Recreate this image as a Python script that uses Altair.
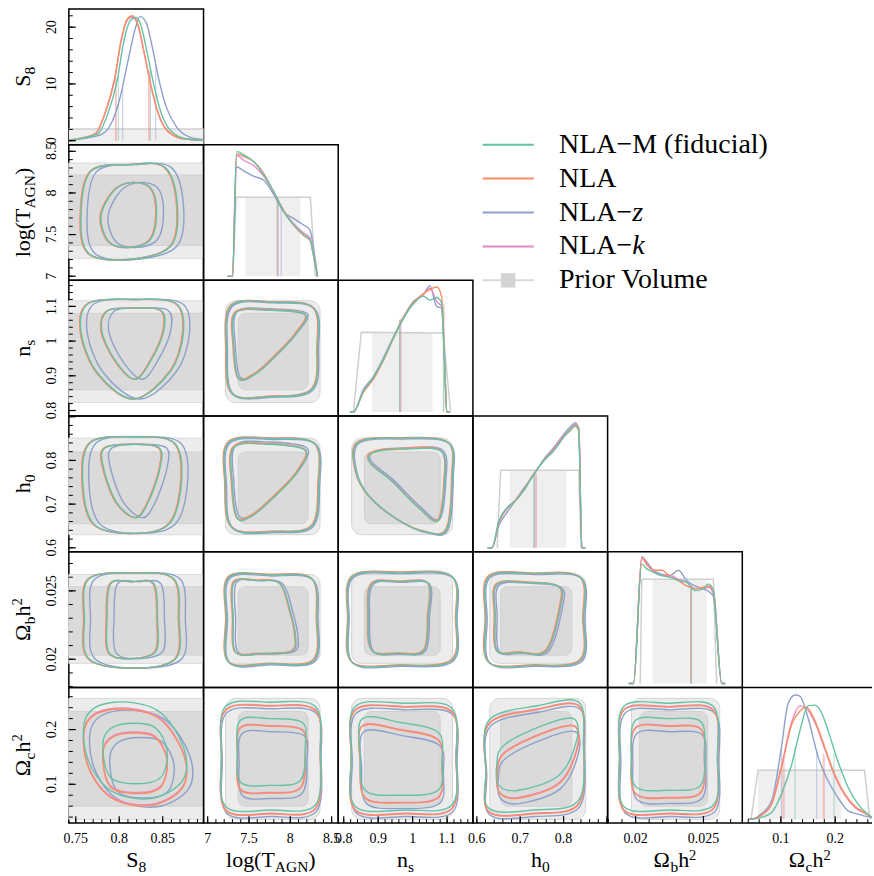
import altair as alt
import numpy as np
import pandas as pd

FONT = "Liberation Serif"
W, H = 135, 136
LAST_W = 130

PARAMS = ["S8", "logT", "ns", "h0", "Ob", "Oc"]
DOMAIN = {
    "S8": [0.742, 0.897],
    "logT": [6.95, 8.58],
    "ns": [0.784, 1.175],
    "h0": [0.591, 0.9015],
    "Ob": [0.01794, 0.02786],
    "Oc": [0.029, 0.277],
}
OC_X_DOMAIN = [0.029, 0.2678]
S8_PDF_DOMAIN = [-0.7, 23.2]
PDF_DOMAIN = [-0.0303, 1.0]

LABEL_VALUES = {
    "S8": [0.75, 0.8, 0.85], "logT": [7, 7.5, 8, 8.5], "ns": [0.8, 0.9, 1.0, 1.1],
    "h0": [0.6, 0.7, 0.8], "Ob": [0.02, 0.025], "Oc": [0.1, 0.2],
}
LABEL_TEXT = {
    "S8": ["0.75", "0.8", "0.85"], "logT": ["7", "7.5", "8", "8.5"], "ns": ["0.8", "0.9", "1", "1.1"],
    "h0": ["0.6", "0.7", "0.8"], "Ob": ["0.02", "0.025"], "Oc": ["0.1", "0.2"],
}
MAJOR = {
    "S8": [0.75, 0.8, 0.85], "logT": [7, 7.5, 8, 8.5], "ns": [0.8, 0.9, 1.0, 1.1],
    "h0": [0.6, 0.7, 0.8, 0.9], "Ob": [0.02, 0.025], "Oc": [0.1, 0.2],
}
MINOR_RANGE = {
    "S8": (0.75, 0.89, 0.01), "logT": (7.0, 8.5, 0.1), "ns": (0.8, 1.16, 0.02),
    "h0": (0.6, 0.9, 0.02), "Ob": (0.018, 0.027, 0.001), "Oc": (0.04, 0.26, 0.02),
}
PDF_LABELS = [0, 10, 20]
PDF_LABEL_TEXT = ["0", "10", "20"]
PDF_MINOR = (0, 22, 2)

MODELS = ["NLA-M", "NLA", "NLA-z", "NLA-k"]
COLORS = {"NLA-M": "#66c2a5", "NLA": "#fc8d62", "NLA-z": "#8da0cb", "NLA-k": "#e78ac3"}
DRAW_ORDER = ["NLA-z", "NLA-k", "NLA", "NLA-M"]

# 2D prior volume: (outer range, inner range) per parameter
PRIOR2D = {
    "logT": ([7.215, 8.36], [7.37, 8.215]),
    "ns": ([0.823, 1.116], [0.86, 1.08]),
    "h0": ([0.630, 0.851], [0.655, 0.819]),
    "Ob": ([0.0197, 0.0262], [0.0203, 0.0253]),
    "Oc": ([0.036, 0.257], [0.060, 0.233]),
}

# fiducial (NLA-M) contours, outer (95%) and inner (68%)
CONTOURS = {
    (1, 0): dict(ox=[0.811, 0.853, 0.867, 0.859, 0.811, 0.765, 0.756, 0.767],
                 oy=[8.340, 8.304, 7.837, 7.357, 7.201, 7.273, 7.717, 8.256],
                 ix=[0.813, 0.836, 0.843, 0.836, 0.811, 0.788, 0.779, 0.793],
                 iy=[8.124, 8.064, 7.777, 7.441, 7.345, 7.417, 7.717, 8.016]),
    (2, 0): dict(ox=[0.817, 0.865, 0.874, 0.859, 0.817, 0.775, 0.756, 0.765],
                 oy=[1.120, 1.109, 1.028, 0.913, 0.833, 0.908, 1.028, 1.109],
                 ix=[0.813, 0.848, 0.851, 0.836, 0.818, 0.796, 0.780, 0.786],
                 iy=[1.095, 1.089, 1.028, 0.942, 0.890, 0.942, 1.028, 1.086]),
    (2, 1): dict(ox=[7.285, 7.780, 8.282, 8.330, 8.263, 7.759, 7.297, 7.228],
                 oy=[1.102, 1.112, 1.095, 0.981, 0.861, 0.840, 0.849, 0.976],
                 ix=[7.337, 7.739, 8.182, 8.061, 7.859, 7.599, 7.376, 7.316],
                 iy=[1.081, 1.089, 1.076, 1.019, 0.966, 0.909, 0.891, 0.985]),
    (3, 0): dict(ox=[0.817, 0.863, 0.872, 0.859, 0.819, 0.771, 0.758, 0.767],
                 oy=[0.854, 0.841, 0.761, 0.658, 0.633, 0.654, 0.753, 0.841],
                 ix=[0.815, 0.846, 0.847, 0.834, 0.819, 0.796, 0.781, 0.784],
                 iy=[0.837, 0.829, 0.783, 0.707, 0.669, 0.707, 0.791, 0.829]),
    (3, 1): dict(ox=[7.256, 7.799, 8.303, 8.343, 8.263, 7.799, 7.297, 7.216],
                 oy=[0.841, 0.850, 0.837, 0.746, 0.650, 0.637, 0.646, 0.746],
                 ix=[7.316, 7.719, 8.182, 8.082, 7.799, 7.538, 7.357, 7.297],
                 iy=[0.829, 0.837, 0.823, 0.772, 0.715, 0.673, 0.668, 0.746]),
    (3, 2): dict(ox=[0.841, 0.968, 1.103, 1.115, 1.099, 1.036, 0.954, 0.872, 0.835],
                 oy=[0.841, 0.851, 0.841, 0.761, 0.643, 0.637, 0.666, 0.719, 0.776],
                 ix=[0.886, 0.984, 1.084, 1.092, 1.074, 1.017, 0.939, 0.877],
                 iy=[0.818, 0.826, 0.820, 0.746, 0.662, 0.692, 0.753, 0.794]),
    (4, 0): dict(ox=[0.817, 0.863, 0.869, 0.865, 0.817, 0.765, 0.760, 0.765],
                 oy=[0.02631, 0.02587, 0.02295, 0.02004, 0.01935, 0.02004, 0.02295, 0.02587],
                 ix=[0.815, 0.840, 0.844, 0.842, 0.813, 0.788, 0.786, 0.790],
                 iy=[0.02567, 0.02551, 0.02295, 0.02057, 0.02004, 0.02052, 0.02295, 0.02551]),
    (4, 1): dict(ox=[7.256, 7.759, 8.263, 8.323, 8.283, 7.759, 7.256, 7.228],
                 oy=[0.02599, 0.02616, 0.02587, 0.02295, 0.01991, 0.01967, 0.01979, 0.02295],
                 ix=[7.316, 7.599, 7.880, 8.001, 8.061, 8.021, 7.638, 7.337, 7.309],
                 iy=[0.02558, 0.02575, 0.02551, 0.02343, 0.02174, 0.02057, 0.02040, 0.02052, 0.02295]),
    (4, 2): dict(ox=[0.825, 0.964, 1.114, 1.126, 1.114, 0.964, 0.825, 0.813],
                 oy=[0.02604, 0.02633, 0.02604, 0.02298, 0.01991, 0.01955, 0.01977, 0.02298],
                 ix=[0.882, 0.964, 1.045, 1.045, 1.033, 0.958, 0.882, 0.871],
                 iy=[0.02553, 0.02567, 0.02553, 0.02320, 0.02064, 0.02042, 0.02064, 0.02320]),
    (4, 3): dict(ox=[0.628, 0.731, 0.839, 0.846, 0.839, 0.731, 0.628, 0.621],
                 oy=[0.02604, 0.02626, 0.02597, 0.02298, 0.01991, 0.01955, 0.01977, 0.02298],
                 ix=[0.646, 0.720, 0.789, 0.793, 0.761, 0.697, 0.646, 0.642],
                 iy=[0.02545, 0.02560, 0.02531, 0.02392, 0.02064, 0.02050, 0.02064, 0.02320]),
    (5, 0): dict(ox=[0.794, 0.844, 0.874, 0.873, 0.836, 0.790, 0.763, 0.762],
                 oy=[0.250, 0.235, 0.168, 0.107, 0.074, 0.089, 0.150, 0.223],
                 ix=[0.809, 0.840, 0.855, 0.848, 0.821, 0.790, 0.781, 0.788],
                 iy=[0.211, 0.205, 0.162, 0.113, 0.101, 0.113, 0.168, 0.199]),
    (5, 1): dict(ox=[7.216, 7.759, 8.303, 8.363, 8.303, 7.759, 7.216, 7.167],
                 oy=[0.242, 0.250, 0.242, 0.162, 0.062, 0.053, 0.060, 0.153],
                 ix=[7.397, 7.759, 8.146, 8.182, 8.122, 7.735, 7.397, 7.361],
                 iy=[0.217, 0.220, 0.213, 0.171, 0.107, 0.098, 0.104, 0.162]),
    (5, 2): dict(ox=[0.833, 0.978, 1.114, 1.126, 1.114, 0.978, 0.833, 0.822],
                 oy=[0.242, 0.248, 0.239, 0.153, 0.062, 0.053, 0.060, 0.153],
                 ix=[0.854, 0.964, 1.074, 1.085, 1.074, 0.964, 0.862, 0.848],
                 iy=[0.220, 0.213, 0.195, 0.144, 0.089, 0.080, 0.089, 0.153]),
    (5, 3): dict(ox=[0.628, 0.743, 0.835, 0.846, 0.835, 0.731, 0.628, 0.621],
                 oy=[0.217, 0.244, 0.250, 0.180, 0.071, 0.053, 0.056, 0.126],
                 ix=[0.662, 0.754, 0.823, 0.830, 0.789, 0.697, 0.651, 0.646],
                 iy=[0.171, 0.208, 0.220, 0.180, 0.116, 0.089, 0.098, 0.135]),
    (5, 4): dict(ox=[0.01912, 0.02242, 0.02573, 0.02603, 0.02573, 0.02242, 0.01912, 0.01882],
                 oy=[0.242, 0.248, 0.242, 0.153, 0.062, 0.053, 0.060, 0.153],
                 ix=[0.02000, 0.02242, 0.02478, 0.02507, 0.02478, 0.02242, 0.02000, 0.01970],
                 iy=[0.217, 0.220, 0.215, 0.162, 0.098, 0.089, 0.096, 0.158]),
}

# shifts of the other models' contours relative to the fiducial: (dx_out, dy_out, dx_in, dy_in)
S8_SHIFT = {"NLA": (-0.001, 0, -0.001, 0), "NLA-z": (0.007, 0, 0.008, 0), "NLA-k": (-0.0008, 0, -0.0008, 0)}
OFFSETS = {
    (1, 0): S8_SHIFT, (2, 0): S8_SHIFT, (3, 0): S8_SHIFT, (4, 0): S8_SHIFT,
    (2, 1): {"NLA": (-0.01, 0.001, -0.01, 0.002), "NLA-z": (0.012, -0.002, 0.02, 0.004), "NLA-k": (0, 0.001, 0, 0)},
    (3, 1): {"NLA": (-0.01, 0.001, -0.01, 0.002), "NLA-z": (0.012, -0.002, 0.02, 0.005), "NLA-k": (0, 0.001, 0, 0.001)},
    (3, 2): {"NLA": (-0.002, 0.001, -0.002, 0.002), "NLA-z": (0.003, -0.002, 0.004, 0.003), "NLA-k": (0, 0, 0, 0.001)},
    (4, 1): {"NLA": (-0.01, 0.00005, -0.01, 0.00005), "NLA-z": (0.012, -0.00007, 0.03, 0), "NLA-k": (0, 0, 0, 0)},
    (4, 2): {"NLA": (-0.002, 0.00005, -0.002, 0.00005), "NLA-z": (0.003, -0.00007, 0.004, -0.00005), "NLA-k": (0, 0, 0.001, 0)},
    (4, 3): {"NLA": (-0.002, 0.00005, -0.002, 0.00005), "NLA-z": (0.003, -0.00007, 0.005, -0.00005), "NLA-k": (0, 0, 0.001, 0)},
    (5, 0): {"NLA": (0, -0.013, 0, -0.018), "NLA-z": (0.007, -0.015, 0.008, -0.026), "NLA-k": (0, -0.011, 0, -0.016)},
    (5, 1): {"NLA": (0, -0.007, 0, -0.014), "NLA-z": (0.01, -0.012, 0.02, -0.024), "NLA-k": (0, -0.006, 0, -0.013)},
    (5, 2): {"NLA": (0, -0.007, 0, -0.014), "NLA-z": (0.003, -0.012, 0.004, -0.024), "NLA-k": (0, -0.006, 0, -0.013)},
    (5, 3): {"NLA": (0, -0.007, 0.002, -0.014), "NLA-z": (0.002, -0.012, 0.004, -0.024), "NLA-k": (0, -0.006, 0.001, -0.013)},
    (5, 4): {"NLA": (0, -0.007, 0, -0.014), "NLA-z": (0.0001, -0.012, 0.0001, -0.024), "NLA-k": (0, -0.006, 0, -0.013)},
}

# 1D marginal posteriors
PDF = {
    "S8": {
        "NLA-M": ([0.742, 0.775, 0.786, 0.798, 0.805, 0.813, 0.819, 0.825, 0.832, 0.840, 0.848, 0.859, 0.878, 0.897],
                  [0.1, 1.2, 4.4, 10.9, 17.3, 21.2, 21.7, 20.3, 15.6, 9.7, 5.0, 1.8, 0.3, 0.1]),
        "NLA": ([0.742, 0.772, 0.783, 0.795, 0.802, 0.810, 0.815, 0.822, 0.829, 0.837, 0.845, 0.856, 0.875, 0.897],
                [0.1, 1.2, 4.6, 11.2, 17.6, 21.6, 22.0, 20.2, 15.2, 9.3, 4.7, 1.6, 0.3, 0.1]),
        "NLA-z": ([0.742, 0.778, 0.790, 0.800, 0.810, 0.818, 0.824, 0.831, 0.838, 0.846, 0.854, 0.866, 0.882, 0.897],
                  [0.1, 1.0, 2.8, 7.0, 14.0, 19.5, 21.9, 20.8, 16.5, 10.5, 6.0, 2.4, 0.6, 0.2]),
        "NLA-k": ([0.742, 0.772, 0.783, 0.795, 0.802, 0.810, 0.815, 0.822, 0.829, 0.837, 0.845, 0.856, 0.875, 0.897],
                  [0.1, 1.1, 4.5, 11.0, 17.4, 21.4, 21.8, 20.1, 15.3, 9.4, 4.8, 1.7, 0.3, 0.1]),
    },
    "logT": {
        "NLA-M": ([7.24, 7.30, 7.35, 7.44, 7.56, 7.68, 7.80, 7.92, 8.04, 8.16, 8.24, 8.28, 8.33],
                  [0, 0, 0.947, 0.922, 0.871, 0.770, 0.644, 0.492, 0.391, 0.316, 0.278, 0.16, 0]),
        "NLA": ([7.24, 7.30, 7.35, 7.44, 7.56, 7.68, 7.80, 7.92, 8.04, 8.16, 8.24, 8.28, 8.33],
                [0, 0, 0.93, 0.91, 0.87, 0.78, 0.64, 0.50, 0.39, 0.31, 0.27, 0.16, 0]),
        "NLA-z": ([7.24, 7.30, 7.35, 7.44, 7.56, 7.68, 7.80, 7.92, 8.04, 8.16, 8.24, 8.28, 8.33],
                  [0, 0, 0.83, 0.80, 0.76, 0.73, 0.62, 0.49, 0.44, 0.39, 0.35, 0.22, 0]),
        "NLA-k": ([7.24, 7.30, 7.35, 7.44, 7.56, 7.68, 7.80, 7.92, 8.04, 8.16, 8.24, 8.28, 8.33],
                  [0, 0, 0.92, 0.88, 0.84, 0.76, 0.64, 0.50, 0.40, 0.33, 0.29, 0.17, 0]),
    },
    "ns": {
        "NLA-M": ([0.818, 0.828, 0.857, 0.886, 0.915, 0.944, 0.973, 1.002, 1.031, 1.050, 1.070, 1.084, 1.092, 1.099, 1.108],
                  [0, 0, 0.16, 0.26, 0.40, 0.56, 0.71, 0.82, 0.88, 0.85, 0.87, 0.83, 0.45, 0, 0]),
        "NLA": ([0.818, 0.828, 0.857, 0.886, 0.915, 0.944, 0.973, 1.002, 1.031, 1.050, 1.070, 1.084, 1.092, 1.099, 1.108],
                [0, 0, 0.15, 0.25, 0.39, 0.56, 0.72, 0.83, 0.90, 0.93, 0.95, 0.88, 0.47, 0, 0]),
        "NLA-z": ([0.818, 0.828, 0.857, 0.886, 0.915, 0.944, 0.973, 1.002, 1.031, 1.050, 1.070, 1.084, 1.092, 1.099, 1.108],
                  [0, 0, 0.17, 0.27, 0.41, 0.57, 0.72, 0.84, 0.89, 0.96, 0.80, 0.79, 0.42, 0, 0]),
        "NLA-k": ([0.818, 0.828, 0.857, 0.886, 0.915, 0.944, 0.973, 1.002, 1.031, 1.050, 1.070, 1.084, 1.092, 1.099, 1.108],
                  [0, 0, 0.16, 0.26, 0.40, 0.56, 0.71, 0.83, 0.89, 0.94, 0.84, 0.80, 0.44, 0, 0]),
    },
    "h0": {
        "NLA-M": ([0.625, 0.635, 0.651, 0.670, 0.689, 0.708, 0.731, 0.754, 0.777, 0.800, 0.816, 0.827, 0.835, 0.842, 0.850],
                  [0, 0, 0.205, 0.305, 0.356, 0.432, 0.558, 0.659, 0.735, 0.836, 0.900, 0.924, 0.886, 0, 0]),
        "NLA": ([0.625, 0.635, 0.651, 0.670, 0.689, 0.708, 0.731, 0.754, 0.777, 0.800, 0.816, 0.827, 0.835, 0.842, 0.850],
                [0, 0, 0.20, 0.30, 0.36, 0.44, 0.56, 0.66, 0.74, 0.84, 0.89, 0.93, 0.90, 0, 0]),
        "NLA-z": ([0.625, 0.635, 0.651, 0.670, 0.689, 0.708, 0.731, 0.754, 0.777, 0.800, 0.816, 0.827, 0.835, 0.842, 0.850],
                  [0, 0, 0.17, 0.27, 0.36, 0.45, 0.55, 0.67, 0.76, 0.86, 0.92, 0.95, 0.90, 0, 0]),
        "NLA-k": ([0.625, 0.635, 0.651, 0.670, 0.689, 0.708, 0.731, 0.754, 0.777, 0.800, 0.816, 0.827, 0.835, 0.842, 0.850],
                  [0, 0, 0.19, 0.30, 0.36, 0.44, 0.56, 0.66, 0.75, 0.85, 0.90, 0.94, 0.91, 0, 0]),
    },
    "Ob": {
        "NLA-M": ([0.0195, 0.01985, 0.02046, 0.02083, 0.02132, 0.02193, 0.02255, 0.02316, 0.02377, 0.02439, 0.02500, 0.02536, 0.02573, 0.02634, 0.0266],
                  [0, 0, 0.906, 0.87, 0.844, 0.819, 0.806, 0.781, 0.768, 0.705, 0.718, 0.756, 0.705, 0, 0]),
        "NLA": ([0.0195, 0.01985, 0.02046, 0.02083, 0.02132, 0.02193, 0.02255, 0.02316, 0.02377, 0.02439, 0.02500, 0.02536, 0.02573, 0.02634, 0.0266],
                [0, 0, 0.95, 0.90, 0.86, 0.86, 0.81, 0.78, 0.74, 0.72, 0.73, 0.74, 0.71, 0, 0]),
        "NLA-z": ([0.0195, 0.01985, 0.02046, 0.02083, 0.02132, 0.02193, 0.02255, 0.02316, 0.02377, 0.02439, 0.02500, 0.02536, 0.02573, 0.02634, 0.0266],
                  [0, 0, 0.96, 0.92, 0.86, 0.83, 0.82, 0.86, 0.78, 0.74, 0.72, 0.70, 0.66, 0, 0]),
        "NLA-k": ([0.0195, 0.01985, 0.02046, 0.02083, 0.02132, 0.02193, 0.02255, 0.02316, 0.02377, 0.02439, 0.02500, 0.02536, 0.02573, 0.02634, 0.0266],
                  [0, 0, 0.96, 0.91, 0.85, 0.82, 0.82, 0.79, 0.77, 0.72, 0.72, 0.73, 0.68, 0, 0]),
    },
    "Oc": {
        "NLA-M": ([0.040, 0.046, 0.064, 0.083, 0.101, 0.120, 0.135, 0.150, 0.163, 0.175, 0.187, 0.205, 0.224, 0.242, 0.260, 0.268],
                  [0, 0, 0.013, 0.05, 0.19, 0.417, 0.67, 0.86, 0.866, 0.808, 0.67, 0.44, 0.24, 0.114, 0.038, 0.013]),
        "NLA": ([0.040, 0.046, 0.064, 0.083, 0.101, 0.120, 0.135, 0.147, 0.163, 0.181, 0.199, 0.218, 0.236, 0.254, 0.268],
                [0, 0, 0.03, 0.114, 0.392, 0.72, 0.82, 0.85, 0.745, 0.543, 0.341, 0.19, 0.10, 0.05, 0.013]),
        "NLA-z": ([0.040, 0.046, 0.064, 0.083, 0.101, 0.113, 0.126, 0.135, 0.150, 0.169, 0.187, 0.205, 0.224, 0.242, 0.268],
                  [0, 0, 0.04, 0.139, 0.543, 0.872, 0.942, 0.934, 0.77, 0.467, 0.29, 0.164, 0.063, 0.038, 0.01]),
        "NLA-k": ([0.040, 0.046, 0.064, 0.083, 0.101, 0.120, 0.135, 0.147, 0.163, 0.181, 0.199, 0.218, 0.236, 0.254, 0.268],
                  [0, 0, 0.03, 0.12, 0.40, 0.74, 0.86, 0.84, 0.73, 0.53, 0.33, 0.18, 0.09, 0.045, 0.012]),
    },
}

# 1D prior volume: flat-top line and the shaded central band (lo, hi, top)
PRIOR1D = {
    "logT": ([7.305, 7.345, 8.243, 8.303], [0, 0.60, 0.60, 0], (7.457, 8.122, 0.60)),
    "ns": ([0.828, 0.851, 1.089, 1.110], [0, 0.606, 0.60, 0], (0.882, 1.058, 0.60)),
    "h0": ([0.647, 0.655, 0.835, 0.840], [0, 0.589, 0.589, 0], (0.676, 0.806, 0.589)),
    "Ob": ([0.02034, 0.02046, 0.02573, 0.02597], [0, 0.791, 0.791, 0], (0.02125, 0.02524, 0.791)),
    "Oc": ([0.045, 0.058, 0.254, 0.264], [0, 0.371, 0.371, 0], (0.058, 0.211, 0.371)),
}
S8_PRIOR_LEVEL = 2.05

# credible-interval markers: (model, position, height)
CI = {
    "S8": [("NLA", 0.796, 11.0), ("NLA-k", 0.7965, 10.8), ("NLA-M", 0.799, 11.3), ("NLA-z", 0.804, 9.5),
           ("NLA", 0.834, 12.5), ("NLA-k", 0.8345, 12.3), ("NLA-M", 0.836, 12.5), ("NLA-z", 0.842, 13.5)],
    "logT": [("NLA", 7.84, 0.60), ("NLA-k", 7.855, 0.59), ("NLA-M", 7.845, 0.60), ("NLA-z", 7.89, 0.55)],
    "ns": [("NLA-M", 0.962, 0.70), ("NLA", 0.963, 0.70), ("NLA-z", 0.966, 0.71), ("NLA-k", 0.964, 0.70),
           ("NLA-M", 1.089, 0.80), ("NLA", 1.091, 0.82)],
    "h0": [("NLA-M", 0.731, 0.55), ("NLA", 0.736, 0.56), ("NLA-k", 0.737, 0.56), ("NLA-z", 0.733, 0.55)],
    "Ob": [("NLA-M", 0.0241, 0.72), ("NLA", 0.02405, 0.72), ("NLA-z", 0.02412, 0.74), ("NLA-k", 0.02408, 0.72)],
    "Oc": [("NLA-z", 0.101, 0.54), ("NLA", 0.104, 0.45), ("NLA-k", 0.106, 0.48), ("NLA-M", 0.126, 0.55),
           ("NLA-z", 0.166, 0.52), ("NLA", 0.178, 0.50), ("NLA-k", 0.180, 0.48), ("NLA-M", 0.198, 0.50)],
}

# axis titles split in normal / subscript / superscript pieces
TITLE_PIECES = {
    "S8": [("S", "m"), ("8", "sub")],
    "logT": [("log(T", "m"), ("AGN", "sub"), (")", "m")],
    "ns": [("n", "m"), ("s", "sub")],
    "h0": [("h", "m"), ("0", "sub")],
    "Ob": [("Ω", "m"), ("b", "sub"), ("h", "m"), ("2", "sup")],
    "Oc": [("Ω", "m"), ("c", "sub"), ("h", "m"), ("2", "sup")],
}
CHAR_W = {"S": 0.556, "8": 0.5, "l": 0.278, "o": 0.5, "g": 0.5, "(": 0.333, ")": 0.333, "T": 0.611,
          "A": 0.722, "G": 0.722, "N": 0.722, "n": 0.5, "s": 0.389, "h": 0.5, "0": 0.5, "Ω": 0.768,
          "b": 0.5, "c": 0.444, "2": 0.5}

LEGEND_KEYS = ["NLA−M (fiducial)", "NLA", "NLA−z", "NLA−k", "Prior Volume"]
LEGEND_MAIN = ["NLA−M (fiducial)", "NLA", "NLA−", "NLA−", "Prior Volume"]
LEGEND_ITALIC = ["", "", "z", "k", ""]
LEGEND_COLORS = ["#66c2a5", "#fc8d62", "#8da0cb", "#e78ac3", "#d9d9d9"]


def sc(dom):
    return alt.Scale(domain=list(dom), nice=False, zero=False)


def minor_vals(a, b, step):
    return list(np.round(np.arange(a, b + step / 2, step), 6))


def title_layers(p, orient, center, base):
    sizes = {"m": 22, "sub": 15.5, "sup": 14.5}
    shifts = {"m": 0, "sub": 5, "sup": -7.5}
    pieces = TITLE_PIECES[p]
    widths = [sum(CHAR_W[ch] for ch in t) * sizes[k] for t, k in pieces]
    total = sum(widths)
    cum = 0.0
    out = []
    for (t, k), w in zip(pieces, widths):
        if orient == "x":
            px, py, ang = center - total / 2 + cum, base + shifts[k], 0
        else:
            px, py, ang = base + shifts[k], center + total / 2 - cum, 270
        out.append(
            alt.Chart(pd.DataFrame({"t": [t]}))
            .mark_text(align="left", baseline="alphabetic", font=FONT, fontSize=sizes[k], angle=ang, color="black")
            .encode(x=alt.value(px), y=alt.value(py), text="t:N")
        )
        cum += w
    return out


def left_axis_layers(dom, labels, texts, major, minor):
    lab = (alt.Chart(pd.DataFrame({"v": labels, "lab": texts}))
           .mark_text(angle=270, align="center", baseline="alphabetic", font=FONT, fontSize=14, color="black")
           .encode(y=alt.Y("v:Q", scale=sc(dom), axis=None), x=alt.value(-13), text="lab:N"))
    maj = (alt.Chart(pd.DataFrame({"v": major})).mark_rule(color="black", strokeWidth=1.2)
           .encode(y=alt.Y("v:Q", scale=sc(dom), axis=None), x=alt.value(0), x2=alt.value(7)))
    mnr = (alt.Chart(pd.DataFrame({"v": minor})).mark_rule(color="black", strokeWidth=1)
           .encode(y=alt.Y("v:Q", scale=sc(dom), axis=None), x=alt.value(0), x2=alt.value(4)))
    bound = (alt.Chart(pd.DataFrame({"v": [0]})).mark_rule(color="white", strokeWidth=1)
             .encode(x=alt.value(-67.5), x2=alt.value(-66), y=alt.value(H / 2)))
    return [lab, maj, mnr, bound]


def bottom_axis_layers(dom, labels, texts, major, minor):
    lab = (alt.Chart(pd.DataFrame({"v": labels, "lab": texts}))
           .mark_text(align="center", baseline="alphabetic", font=FONT, fontSize=14, color="black")
           .encode(x=alt.X("v:Q", scale=sc(dom), axis=None), y=alt.value(H + 20), text="lab:N"))
    maj = (alt.Chart(pd.DataFrame({"v": major})).mark_rule(color="black", strokeWidth=1.2)
           .encode(x=alt.X("v:Q", scale=sc(dom), axis=None), y=alt.value(H), y2=alt.value(H - 7)))
    mnr = (alt.Chart(pd.DataFrame({"v": minor})).mark_rule(color="black", strokeWidth=1)
           .encode(x=alt.X("v:Q", scale=sc(dom), axis=None), y=alt.value(H), y2=alt.value(H - 4)))
    return [lab, maj, mnr]


def contour_df(key, model):
    base = CONTOURS[key]
    dxo, dyo, dxi, dyi = (0, 0, 0, 0) if model == "NLA-M" else OFFSETS[key][model]
    rows = []
    for lvl, xs, ys, dx, dy in (("outer", base["ox"], base["oy"], dxo, dyo),
                                ("inner", base["ix"], base["iy"], dxi, dyi)):
        for i, (x, y) in enumerate(zip(xs, ys)):
            rows.append({"x": x + dx, "y": y + dy, "lvl": lvl, "i": i})
    return pd.DataFrame(rows)


def panel2d(r, c):
    px, py = PARAMS[c], PARAMS[r]
    xs, ys = sc(DOMAIN[px]), sc(DOMAIN[py])
    layers = []
    (oy_lo, oy_hi), (iy_lo, iy_hi) = PRIOR2D[py]
    if c == 0:
        for (lo, hi), fill, stroke in (((oy_lo, oy_hi), "#ececec", "#dadada"), ((iy_lo, iy_hi), "#dadada", "#d2d2d2")):
            layers.append(
                alt.Chart(pd.DataFrame({"y": [lo], "y2": [hi]}))
                .mark_rect(fill=fill, stroke=stroke, strokeWidth=1)
                .encode(x=alt.value(0), x2=alt.value(W), y=alt.Y("y:Q", scale=ys, axis=None), y2="y2:Q")
            )
    else:
        (ox_lo, ox_hi), (ix_lo, ix_hi) = PRIOR2D[px]
        for (xl, xh, yl, yh), fill, stroke, rad in (
            ((ox_lo, ox_hi, oy_lo, oy_hi), "#ececec", "#d4d4d4", 10),
            ((ix_lo, ix_hi, iy_lo, iy_hi), "#dadada", "#d0d0d0", 7),
        ):
            layers.append(
                alt.Chart(pd.DataFrame({"x": [xl], "x2": [xh], "y": [yl], "y2": [yh]}))
                .mark_rect(fill=fill, stroke=stroke, strokeWidth=1, cornerRadius=rad)
                .encode(x=alt.X("x:Q", scale=xs, axis=None), x2="x2:Q",
                        y=alt.Y("y:Q", scale=ys, axis=None), y2="y2:Q")
            )
    for m in DRAW_ORDER:
        layers.append(
            alt.Chart(contour_df((r, c), m))
            .mark_line(interpolate="cardinal-closed", color=COLORS[m], strokeWidth=1.4, clip=True)
            .encode(x=alt.X("x:Q", scale=xs, axis=None), y=alt.Y("y:Q", scale=ys, axis=None),
                    detail="lvl:N", order="i:Q")
        )
    if c == 0:
        layers += left_axis_layers(DOMAIN[py], LABEL_VALUES[py], LABEL_TEXT[py], MAJOR[py],
                                   minor_vals(*MINOR_RANGE[py]))
        layers += title_layers(py, "y", H / 2, -39)
    if r == 5:
        layers += bottom_axis_layers(DOMAIN[px], LABEL_VALUES[px], LABEL_TEXT[px], MAJOR[px],
                                     minor_vals(*MINOR_RANGE[px]))
        layers += title_layers(px, "x", W / 2, 180)
    return alt.layer(*layers).properties(width=W, height=H)


def panel_diag(k):
    p = PARAMS[k]
    w = LAST_W if k == 5 else W
    xdom = OC_X_DOMAIN if k == 5 else DOMAIN[p]
    xs = sc(xdom)
    ys = sc(S8_PDF_DOMAIN if k == 0 else PDF_DOMAIN)
    layers = []
    if k == 0:
        layers.append(
            alt.Chart(pd.DataFrame({"y": [S8_PDF_DOMAIN[0]], "y2": [S8_PRIOR_LEVEL]}))
            .mark_rect(fill="#efefef")
            .encode(x=alt.value(0), x2=alt.value(w), y=alt.Y("y:Q", scale=ys, axis=None), y2="y2:Q")
        )
        layers.append(
            alt.Chart(pd.DataFrame({"y": [S8_PRIOR_LEVEL]}))
            .mark_rule(color="#cfcfcf", strokeWidth=1.5)
            .encode(x=alt.value(0), x2=alt.value(w), y=alt.Y("y:Q", scale=ys, axis=None))
        )
    else:
        lx, ly, (slo, shi, stop) = PRIOR1D[p]
        layers.append(
            alt.Chart(pd.DataFrame({"x": [slo], "x2": [shi], "y": [0], "y2": [stop]}))
            .mark_rect(fill="#efefef", clip=True)
            .encode(x=alt.X("x:Q", scale=xs, axis=None), x2="x2:Q",
                    y=alt.Y("y:Q", scale=ys, axis=None), y2="y2:Q")
        )
        layers.append(
            alt.Chart(pd.DataFrame({"x": lx, "y": ly, "i": list(range(len(lx)))}))
            .mark_line(color="#cfcfcf", strokeWidth=1.5, clip=True)
            .encode(x=alt.X("x:Q", scale=xs, axis=None), y=alt.Y("y:Q", scale=ys, axis=None), order="i:Q")
        )
    ci = pd.DataFrame(CI[p], columns=["model", "x", "h"])
    ci["y0"] = 0.0
    for m in DRAW_ORDER:
        sub = ci[ci["model"] == m]
        if len(sub) == 0:
            continue
        layers.append(
            alt.Chart(sub).mark_rule(strokeWidth=1, opacity=0.55, color=COLORS[m], clip=True)
            .encode(x=alt.X("x:Q", scale=xs, axis=None), y=alt.Y("y0:Q", scale=ys, axis=None), y2="h:Q")
        )
    for m in DRAW_ORDER:
        cx, cy = PDF[p][m]
        layers.append(
            alt.Chart(pd.DataFrame({"x": cx, "y": cy}))
            .mark_line(interpolate="monotone", color=COLORS[m], strokeWidth=1.4, clip=True)
            .encode(x=alt.X("x:Q", scale=xs, axis=None), y=alt.Y("y:Q", scale=ys, axis=None))
        )
    props = dict(width=w, height=H)
    if k == 0:
        layers += left_axis_layers(S8_PDF_DOMAIN, PDF_LABELS, PDF_LABEL_TEXT, PDF_LABELS, minor_vals(*PDF_MINOR))
        layers += title_layers("S8", "y", H / 2, -39)
    if k == 5:
        layers += bottom_axis_layers(OC_X_DOMAIN, LABEL_VALUES[p], LABEL_TEXT[p], MAJOR[p],
                                     minor_vals(*MINOR_RANGE[p]))
        layers += title_layers(p, "x", W / 2, 180)
        for yy in (0, H):
            layers.append(
                alt.Chart(pd.DataFrame({"a": [0]})).mark_rule(color="black", strokeWidth=1.5)
                .encode(x=alt.value(0), x2=alt.value(w), y=alt.value(yy))
            )
        props["view"] = alt.ViewBackground(stroke="transparent")
    return alt.layer(*layers).properties(**props)


def legend_panel():
    df = pd.DataFrame({"key": LEGEND_KEYS, "main": LEGEND_MAIN, "ital": LEGEND_ITALIC})
    yenc = alt.Y("key:N", scale=alt.Scale(type="point", domain=LEGEND_KEYS, range=[0, 136], padding=0), axis=None)
    layers = []
    for key, col in zip(LEGEND_KEYS, LEGEND_COLORS):
        layers.append(
            alt.Chart(df[df["key"] == key]).mark_rule(strokeWidth=2, color=col)
            .encode(y=yenc, x=alt.value(144.7), x2=alt.value(196))
        )
    layers.append(
        alt.Chart(df[df["key"] == "Prior Volume"]).mark_square(size=210, color="#d3d3d3", opacity=1)
        .encode(y=yenc, x=alt.value(170.3))
    )
    layers.append(
        alt.Chart(df).mark_text(align="left", baseline="alphabetic", dy=8, fontSize=28, font=FONT, color="black")
        .encode(y=yenc, x=alt.value(221.3), text="main:N")
    )
    layers.append(
        alt.Chart(df[df["ital"] != ""])
        .mark_text(align="left", baseline="alphabetic", dy=8, fontSize=28, font=FONT, fontStyle="italic",
                   color="black")
        .encode(y=yenc, x=alt.value(221.3 + 73.3), text="ital:N")
    )
    return alt.layer(*layers).properties(width=W, height=H, view=alt.ViewBackground(stroke="transparent"))


def blank(w):
    return (alt.Chart(pd.DataFrame({"a": [0]})).mark_point(opacity=0, size=1)
            .encode(x=alt.value(w / 2), y=alt.value(H / 2))
            .properties(width=w, height=H, view=alt.ViewBackground(stroke="transparent")))


cells = []
for r in range(6):
    for c in range(6):
        if c < r:
            cells.append(panel2d(r, c))
        elif c == r:
            cells.append(panel_diag(r))
        elif r == 1 and c == 2:
            cells.append(legend_panel())
        else:
            cells.append(blank(LAST_W if c == 5 else W))

chart = (
    alt.concat(*cells, columns=6, spacing=0, bounds="flush")
    .properties(padding={"left": 0, "top": 7, "right": 0, "bottom": 0}, background="white")
    .configure_view(stroke="black", strokeWidth=1.5)
)

chart.save("out.html", embed_options={"renderer": "svg", "actions": False})
